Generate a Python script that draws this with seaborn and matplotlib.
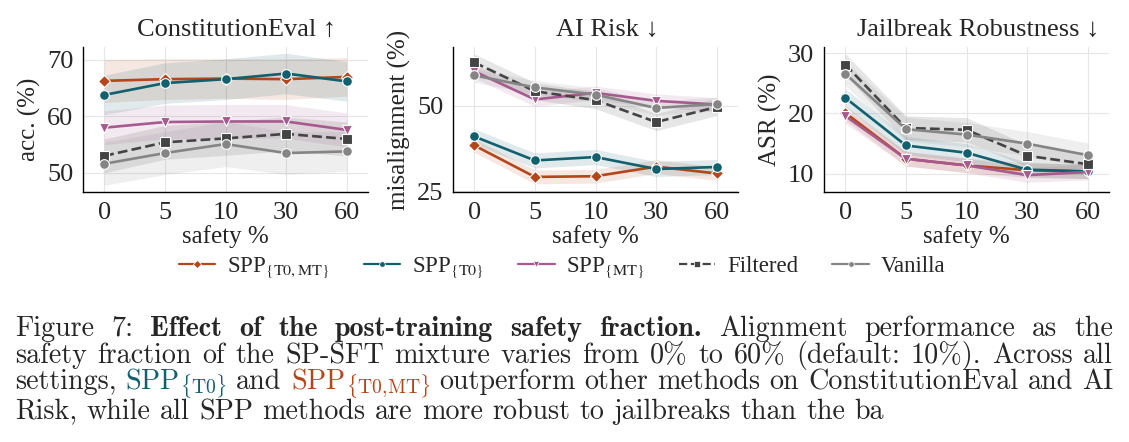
import numpy as np
import pandas as pd
import matplotlib
matplotlib.use("Agg")
import matplotlib.pyplot as plt
from matplotlib.lines import Line2D
import seaborn as sns

# ---------------- data ----------------
safety_pct = ["0", "5", "10", "30", "60"]
methods = ["SPP_T0MT", "SPP_T0", "SPP_MT", "Filtered", "Vanilla"]
legend_labels = [r"SPP$_{\{\mathrm{T0,MT}\}}$", r"SPP$_{\{\mathrm{T0}\}}$",
                 r"SPP$_{\{\mathrm{MT}\}}$", "Filtered", "Vanilla"]

const_spp_t0mt = [66.3, 66.6, 66.7, 66.6, 67.0]
const_spp_t0 = [63.8, 65.9, 66.6, 67.6, 66.2]
const_spp_mt = [58.0, 59.0, 59.1, 59.1, 57.6]
const_filtered = [53.0, 55.4, 56.1, 56.9, 56.0]
const_vanilla = [51.6, 53.5, 55.1, 53.5, 53.8]
const_err_t0mt = [3.8, 3.6, 3.5, 3.6, 3.4]
const_err_t0 = [3.5, 3.6, 3.6, 3.6, 3.5]
const_err_mt = [3.0, 3.0, 3.0, 3.0, 3.0]
const_err_filtered = [3.0, 3.0, 3.0, 3.0, 3.0]
const_err_vanilla = [3.8, 3.8, 4.0, 3.8, 3.5]

airisk_spp_t0mt = [38.4, 29.2, 29.4, 32.2, 30.2]
airisk_spp_t0 = [41.0, 34.0, 35.0, 31.5, 32.1]
airisk_spp_mt = [60.0, 51.8, 53.7, 51.4, 50.3]
airisk_filtered = [62.6, 54.2, 51.6, 45.2, 49.6]
airisk_vanilla = [58.8, 55.3, 53.2, 49.3, 50.5]
airisk_err_t0mt = [2.0, 2.0, 2.0, 2.0, 2.0]
airisk_err_t0 = [2.2, 2.2, 2.2, 2.2, 2.2]
airisk_err_mt = [2.0, 2.0, 2.0, 2.0, 2.0]
airisk_err_filtered = [2.5, 2.5, 2.5, 2.5, 2.5]
airisk_err_vanilla = [2.0, 2.0, 2.0, 2.0, 2.0]

jb_spp_t0mt = [20.1, 12.5, 11.4, 10.6, 10.4]
jb_spp_t0 = [22.6, 14.7, 13.5, 10.7, 10.4]
jb_spp_mt = [19.6, 12.5, 11.4, 9.8, 10.3]
jb_filtered = [28.1, 17.6, 17.3, 13.0, 11.6]
jb_vanilla = [26.6, 17.4, 16.5, 15.0, 13.1]
jb_err_t0mt = [1.2, 1.2, 1.2, 1.2, 1.2]
jb_err_t0 = [1.5, 1.5, 1.5, 1.2, 1.2]
jb_err_mt = [1.2, 1.2, 1.2, 1.2, 1.3]
jb_err_filtered = [1.8, 2.0, 2.0, 1.8, 1.8]
jb_err_vanilla = [2.0, 2.0, 2.0, 2.0, 2.0]

panel_titles = ["ConstitutionEval \u2191", "AI Risk \u2193", "Jailbreak Robustness \u2193"]
panel_ylabels = ["acc. (%)", "misalignment (%)", "ASR (%)"]
panel_yticks = [[50, 60, 70], [25, 50], [10, 20, 30]]
panel_ylims = [(46.6, 72.3), (24.8, 67.1), (7.0, 31.0)]

panel_values = [
    [const_spp_t0mt, const_spp_t0, const_spp_mt, const_filtered, const_vanilla],
    [airisk_spp_t0mt, airisk_spp_t0, airisk_spp_mt, airisk_filtered, airisk_vanilla],
    [jb_spp_t0mt, jb_spp_t0, jb_spp_mt, jb_filtered, jb_vanilla],
]
panel_errs = [
    [const_err_t0mt, const_err_t0, const_err_mt, const_err_filtered, const_err_vanilla],
    [airisk_err_t0mt, airisk_err_t0, airisk_err_mt, airisk_err_filtered, airisk_err_vanilla],
    [jb_err_t0mt, jb_err_t0, jb_err_mt, jb_err_filtered, jb_err_vanilla],
]

# ---------------- style ----------------
colors = {"SPP_T0MT": "#b4461a", "SPP_T0": "#125f6e", "SPP_MT": "#a65a8e",
          "Filtered": "#444444", "Vanilla": "#858585"}
markers = {"SPP_T0MT": "D", "SPP_T0": "o", "SPP_MT": "v", "Filtered": "s", "Vanilla": "o"}
msizes = {"SPP_T0MT": 6, "SPP_T0": 7, "SPP_MT": 7, "Filtered": 7, "Vanilla": 7}

sns.set_theme(style="whitegrid")
SERIF = ["Liberation Serif", "DejaVu Serif"]
plt.rcParams["font.family"] = SERIF
plt.rcParams["mathtext.fontset"] = "stix"

W, H = 1129, 442
fig = plt.figure(figsize=(W / 100, H / 100), dpi=100)
lefts = [83, 453, 824]
ax_w, ax_top, ax_bot = 285, 47, 192

for p in range(3):
    ax = fig.add_axes([lefts[p] / W, 1 - ax_bot / H, ax_w / W, (ax_bot - ax_top) / H])
    rows = []
    for m, vals in zip(methods, panel_values[p]):
        for i, v in enumerate(vals):
            rows.append({"x": i, "value": v, "method": m})
    df = pd.DataFrame(rows)
    for m, vals, err in zip(methods, panel_values[p], panel_errs[p]):
        v = np.array(vals); e = np.array(err)
        ax.fill_between(np.arange(len(v)), v - e, v + e, color=colors[m],
                        alpha=0.13, linewidth=0, zorder=1)
    for m in methods:
        sub = df[df.method == m]
        sns.lineplot(data=sub, x="x", y="value", ax=ax, color=colors[m],
                     marker=markers[m], markersize=msizes[m], markeredgecolor="white",
                     markeredgewidth=0.8, linewidth=1.9, errorbar=None, legend=False,
                     linestyle="--" if m == "Filtered" else "-", zorder=3)
    ax.set_xlim(-0.35, 4.35)
    ax.set_ylim(*panel_ylims[p])
    ax.set_xticks(range(len(safety_pct)))
    ax.set_xticklabels(safety_pct)
    ax.set_yticks(panel_yticks[p])
    ax.tick_params(labelsize=19, length=3, width=0.8, color="black", pad=4)
    ax.set_xlabel("safety %", fontsize=18, labelpad=1)
    ax.set_ylabel(panel_ylabels[p], fontsize=18, labelpad=4)
    ax.set_title(panel_titles[p], fontsize=19, pad=8, x=0.54)
    ax.grid(True, color="#e6e6e6", linewidth=0.8)
    sns.despine(ax=ax)
    for s in ["left", "bottom"]:
        ax.spines[s].set_color("black")
        ax.spines[s].set_linewidth(1.0)
    ax.set_facecolor("white")

handles = [Line2D([0], [0], color=colors[m], marker=markers[m], markersize=4,
                  markeredgecolor="white", markeredgewidth=0.5, linewidth=1.6,
                  linestyle="--" if m == "Filtered" else "-") for m in methods]
fig.legend(handles, legend_labels, loc="center", bbox_to_anchor=(562 / W, 1 - 268 / H),
           ncol=5, frameon=False, fontsize=16.5, handlelength=1.6, columnspacing=1.5,
           handletextpad=0.5)

# ---------------- caption ----------------
caption_lines = [
    [("Figure", "r"), ("7:", "r"), ("Effect", "b"), ("of", "b"), ("the", "b"),
     ("post-training", "b"), ("safety", "b"), ("fraction.", "b"), ("Alignment", "r"),
     ("performance", "r"), ("as", "r"), ("the", "r")],
    [(w, "r") for w in "safety fraction of the SP-SFT mixture varies from 0% to 60% (default: 10%). Across all".split()],
    [("settings,", "r"), (r"SPP$_{\{\mathrm{T0}\}}$", "teal"), ("and", "r"),
     (r"SPP$_{\{\mathrm{T0{,}MT}\}}$", "orange")] +
    [(w, "r") for w in "outperform other methods on ConstitutionEval and AI".split()],
    [(w, "r") for w in "Risk, while all SPP methods are more robust to jailbreaks than the ba".split()],
]
justified = [True, True, True, False]
baselines = [336, 363, 389, 419]
cap_left, cap_right = 15, 1113

renderer = fig.canvas.get_renderer()

def style_kw(st, fs):
    if st == "b":
        return dict(family=["cmb10", "DejaVu Serif"], fontsize=fs)
    kw = dict(family=["cmr10", "DejaVu Serif"], fontsize=fs, math_fontfamily="cm")
    if st == "teal":
        kw["color"] = colors["SPP_T0"]
    elif st == "orange":
        kw["color"] = colors["SPP_T0MT"]
    return kw

def measure(s, st, fs):
    t = fig.text(0, 0, s, **style_kw(st, fs))
    w = t.get_window_extent(renderer).width
    t.remove()
    return w

fs0 = 10
space0 = measure("a b", "r", fs0) - measure("ab", "r", fs0)
fits = []
for line, just in zip(caption_lines, justified):
    if just:
        nat = sum(measure(w, st, fs0) for w, st in line) + 0.9 * space0 * (len(line) - 1)
        fits.append(fs0 * (cap_right - cap_left) / nat)
fs = min(fits)
space = measure("a b", "r", fs) - measure("ab", "r", fs)

for line, just, by in zip(caption_lines, justified, baselines):
    widths = [measure(w, st, fs) for w, st in line]
    if just:
        gap = (cap_right - cap_left - sum(widths)) / (len(line) - 1)
    else:
        gap = space
    x = cap_left
    for (w, st), wd in zip(line, widths):
        fig.text(x / W, 1 - by / H, w, va="baseline", ha="left", **style_kw(st, fs))
        x += wd + gap

fig.savefig("out.png", dpi=100, facecolor="white")
